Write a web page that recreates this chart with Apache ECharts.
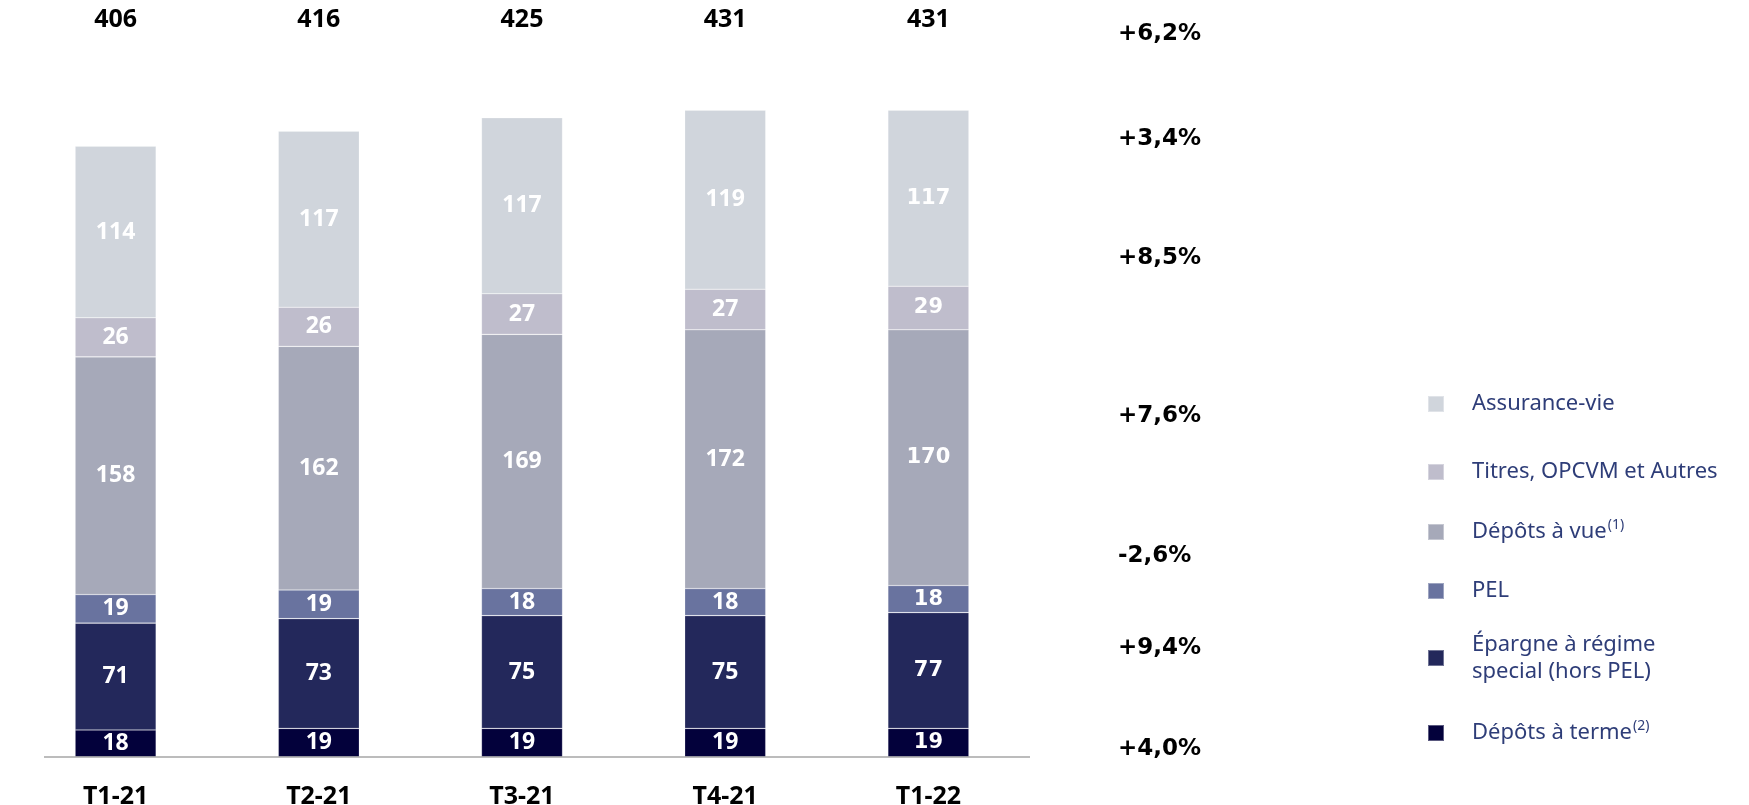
<!DOCTYPE html>
<html>
<head>
<meta charset="utf-8">
<script src="https://cdn.jsdelivr.net/npm/echarts@6/dist/echarts.min.js"></script>
<style>
  html, body { margin: 0; padding: 0; background: #ffffff; }
  #chart { width: 1749px; height: 805px; }
</style>
</head>
<body>
<div id="chart"></div>
<script>
// Encours d'épargne par trimestre (Md€), empilés du bas vers le haut
const categories = ['T1-21', 'T2-21', 'T3-21', 'T4-21', 'T1-22'];
const depotsTerme = [18, 19, 19, 19, 19];
const epargneSpeciale = [71, 73, 75, 75, 77];
const pel = [19, 19, 18, 18, 18];
const depotsVue = [158, 162, 169, 172, 170];
const titres = [26, 26, 27, 27, 29];
const assuranceVie = [114, 117, 117, 119, 117];
const totals = [406, 416, 425, 431, 431];

// Évolutions annuelles, du total (haut) aux dépôts à terme (bas)
const growthLabels = ['+6,2%', '+3,4%', '+8,5%', '+7,6%', '-2,6%', '+9,4%', '+4,0%'];

const seriesDefs = [
  { name: 'Dépôts à terme', data: depotsTerme, color: '#03013b' },
  { name: 'Épargne à régime\nspecial (hors PEL)', data: epargneSpeciale, color: '#23285b' },
  { name: 'PEL', data: pel, color: '#69739f' },
  { name: 'Dépôts à vue', data: depotsVue, color: '#a6a9b9' },
  { name: 'Titres, OPCVM et Autres', data: titres, color: '#bfbdcc' },
  { name: 'Assurance-vie', data: assuranceVie, color: '#d0d5dc' }
];

// Vertical centre of each legend row, top to bottom
const legendRows = [
  { name: 'Assurance-vie', y: 404, lines: 1 },
  { name: 'Titres, OPCVM et Autres', y: 472, lines: 1 },
  { name: 'Dépôts à vue', y: 532, lines: 1 },
  { name: 'PEL', y: 591, lines: 1 },
  { name: 'Épargne à régime\nspecial (hors PEL)', y: 658, lines: 2 },
  { name: 'Dépôts à terme', y: 733, lines: 1 }
];
const growthRowY = [31, 136, 255, 413, 553, 645, 746];

const footnotes = { 'Dépôts à vue': '(1)', 'Dépôts à terme': '(2)' };

const segLabel = {
  show: true,
  position: 'inside',
  color: '#ffffff',
  fontFamily: 'Noto Sans',
  fontWeight: 'bold',
  fontSize: 23
};

const series = seriesDefs.map(s => ({
  name: s.name,
  type: 'bar',
  stack: 'encours',
  barWidth: 81,
  itemStyle: { color: s.color, borderColor: 'rgba(255,255,255,0.35)', borderWidth: 0.6 },
  label: segLabel,
  emphasis: { disabled: true },
  data: s.data.map((v, i) => i === categories.length - 1
    ? { value: v, label: { fontFamily: 'DejaVu Sans', fontSize: 21 } }
    : v)
}));

const LINE_H = 27;
const legends = legendRows.map(r => ({
  orient: 'vertical',
  left: 1427,
  top: r.y - (LINE_H * r.lines) / 2,
  padding: 0,
  icon: 'rect',
  itemWidth: 16,
  itemHeight: 16,
  selectedMode: false,
  data: [r.name],
  formatter: name => footnotes[name] ? '{n|' + name + '}{s|' + footnotes[name] + '}' : name,
  textStyle: {
    color: '#2e3d78',
    fontFamily: 'Noto Sans',
    fontSize: 22,
    lineHeight: LINE_H,
    padding: [0, 0, 0, 23],
    rich: {
      n: { color: '#2e3d78', fontFamily: 'Noto Sans', fontSize: 22, lineHeight: LINE_H },
      s: { color: '#2e3d78', fontFamily: 'Noto Sans', fontSize: 14, lineHeight: LINE_H, verticalAlign: 'top', padding: [0, 0, 10, 1] }
    }
  }
}));

const growthText = growthLabels.map((t, i) => ({
  type: 'text',
  left: 1118,
  top: growthRowY[i] - 8,
  style: {
    text: t,
    fill: '#000000',
    font: 'bold 23px "DejaVu Sans"',
    width: 80,
    align: 'center'
  }
}));

const GRID_RIGHT = 719;
const AXIS_LEFT = 44;

const chart = echarts.init(document.getElementById('chart'), null, { renderer: 'canvas' });
chart.setOption({
  animation: false,
  backgroundColor: '#ffffff',
  grid: { left: 14, right: GRID_RIGHT, top: 35, bottom: 48, outerBoundsMode: 'none', containLabel: false },
  xAxis: [
    {
      type: 'category',
      data: categories,
      axisLine: { show: false },
      axisTick: { show: false },
      axisLabel: {
        margin: 27,
        color: '#000000',
        fontFamily: 'Noto Sans',
        fontWeight: 'bold',
        fontSize: 25
      }
    },
    {
      type: 'category',
      position: 'top',
      data: categories,
      axisLine: { show: false },
      axisTick: { show: false },
      axisLabel: {
        margin: 3,
        color: '#000000',
        fontFamily: 'Noto Sans',
        fontWeight: 'bold',
        fontSize: 25,
        formatter: (v, i) => String(totals[i])
      }
    }
  ],
  yAxis: {
    type: 'value',
    min: 0,
    max: 480,
    show: false,
    splitLine: { show: false }
  },
  legend: legends,
  series: series,
  graphic: growthText
});

// Baseline under the bars, placed at the value-axis zero
const baseY = chart.convertToPixel({ yAxisIndex: 0 }, 0);
const rightX = chart.getWidth() - GRID_RIGHT;
chart.setOption({
  graphic: growthText.concat([{
    type: 'line',
    shape: { x1: AXIS_LEFT, y1: baseY, x2: rightX, y2: baseY },
    style: { stroke: '#a6a6a6', lineWidth: 1.5 },
    z: 10
  }])
});
</script>
</body>
</html>
